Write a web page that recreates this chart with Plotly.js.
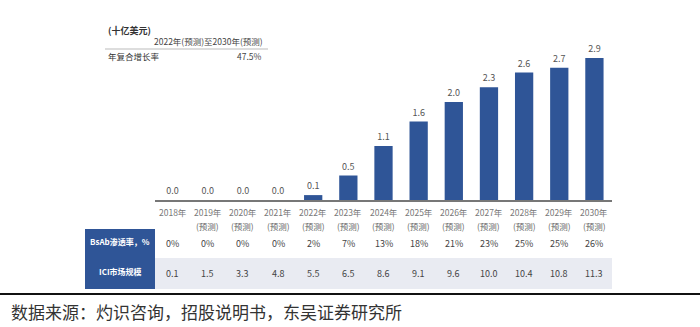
<!DOCTYPE html>
<html>
<head>
<meta charset="utf-8">
<script src="https://cdn.plot.ly/plotly-3.0.1.min.js"></script>
<style>html,body{margin:0;padding:0;background:#fff;}#chart{width:700px;height:327px;}</style>
</head>
<body>
<div id="chart"></div>
<script>
const years = ['2018年','2019年','2020年','2021年','2022年','2023年','2024年','2025年','2026年','2027年','2028年','2029年','2030年'];
const forecastTag = ['','(预测)','(预测)','(预测)','(预测)','(预测)','(预测)','(预测)','(预测)','(预测)','(预测)','(预测)','(预测)'];
const bsabMarket = [0.0,0.0,0.0,0.0,0.1,0.5,1.1,1.6,2.0,2.3,2.6,2.7,2.9];
const penetration = ['0%','0%','0%','0%','2%','7%','13%','18%','21%','23%','25%','25%','26%'];
const iciMarket = ['0.1','1.5','3.3','4.8','5.5','6.5','8.6','9.1','9.6','10.0','10.4','10.8','11.3'];
const rowLabels = ['BsAb渗透率，%','ICI市场规模'];
const unitLabel = '(十亿美元)';
const cagrHeader = '2022年(预测)至2030年(预测)';
const cagrLabel = '年复合增长率';
const cagrValue = '47.5%';
const sourceText = '数据来源：灼识咨询，招股说明书，东吴证券研究所';

const W = 700, H = 327;
const L = 155, R = 612, T = 40, B = 200;
const px = p => (p - L) / (R - L);
const py = q => (B - q) / (B - T);
const FONT = 'Noto Sans CJK SC, Noto Sans, sans-serif';
const BLUE = '#2F5597';

const idx = years.map((_, i) => i);

const trace = {
  type: 'bar', x: idx, y: bsabMarket, width: 0.52,
  marker: {color: BLUE},
  text: bsabMarket.map(v => v.toFixed(1)), textposition: 'outside',
  textfont: {family: FONT, size: 9, color: '#555'},
  cliponaxis: false, hoverinfo: 'skip'
};

const ann = [];
years.forEach((y, i) => {
  ann.push({x: i, y: py(212), xref: 'x', yref: 'paper', text: y, showarrow: false,
    font: {family: FONT, size: 8.5, color: '#777'}, xanchor: 'center', yanchor: 'middle'});
  if (forecastTag[i]) ann.push({x: i, y: py(226), xref: 'x', yref: 'paper', text: forecastTag[i], showarrow: false,
    font: {family: FONT, size: 8.5, color: '#666'}, xanchor: 'center', yanchor: 'middle'});
  ann.push({x: i, y: py(243), xref: 'x', yref: 'paper', text: penetration[i], showarrow: false,
    font: {family: FONT, size: 9, color: '#444'}, xanchor: 'center', yanchor: 'middle'});
  ann.push({x: i, y: py(273), xref: 'x', yref: 'paper', text: iciMarket[i], showarrow: false,
    font: {family: FONT, size: 9, color: '#444'}, xanchor: 'center', yanchor: 'middle'});
});
ann.push({x: px(120), y: py(241), xref: 'paper', yref: 'paper', text: rowLabels[0], showarrow: false,
  font: {family: FONT, size: 8, color: '#fff', weight: 'bold'}, xanchor: 'center', yanchor: 'middle'});
ann.push({x: px(120), y: py(271), xref: 'paper', yref: 'paper', text: rowLabels[1], showarrow: false,
  font: {family: FONT, size: 8, color: '#fff', weight: 'bold'}, xanchor: 'center', yanchor: 'middle'});
ann.push({x: px(106), y: py(30), xref: 'paper', yref: 'paper', text: '<b>' + unitLabel + '</b>', showarrow: false,
  font: {family: FONT, size: 9, color: '#333'}, xanchor: 'left', yanchor: 'middle'});
ann.push({x: px(265), y: py(41), xref: 'paper', yref: 'paper', text: cagrHeader, showarrow: false,
  font: {family: FONT, size: 8.5, color: '#444'}, xanchor: 'right', yanchor: 'middle'});
ann.push({x: px(106), y: py(56), xref: 'paper', yref: 'paper', text: cagrLabel, showarrow: false,
  font: {family: FONT, size: 8.5, color: '#333'}, xanchor: 'left', yanchor: 'middle'});
ann.push({x: px(264), y: py(56), xref: 'paper', yref: 'paper', text: cagrValue, showarrow: false,
  font: {family: FONT, size: 8.5, color: '#444'}, xanchor: 'right', yanchor: 'middle'});
ann.push({x: px(9), y: py(311), xref: 'paper', yref: 'paper', text: sourceText, showarrow: false,
  font: {family: FONT, size: 17, color: '#333'}, xanchor: 'left', yanchor: 'middle'});

const shapes = [
  {type: 'rect', xref: 'paper', yref: 'paper', x0: px(155), x1: px(612), y0: py(258), y1: py(289),
    fillcolor: '#e9ebf2', line: {width: 0}, layer: 'below'},
  {type: 'rect', xref: 'paper', yref: 'paper', x0: px(85), x1: px(155), y0: py(229), y1: py(289),
    fillcolor: BLUE, line: {width: 0}},
  {type: 'line', xref: 'paper', yref: 'paper', x0: px(105), x1: px(268), y0: py(49), y1: py(49),
    line: {color: '#bbb', width: 1}},
  {type: 'line', xref: 'paper', yref: 'paper', x0: px(0), x1: px(700), y0: py(294), y1: py(294),
    line: {color: '#111', width: 2}}
];

const layout = {
  width: W, height: H,
  margin: {l: L, r: W - R, t: T, b: H - B, pad: 0},
  paper_bgcolor: '#fff', plot_bgcolor: 'rgba(0,0,0,0)',
  showlegend: false,
  xaxis: {range: [-0.5, 12.5], showticklabels: false, ticks: '', showgrid: false, zeroline: false,
    showline: true, linecolor: '#777', linewidth: 1.5, fixedrange: true},
  yaxis: {range: [0, 160 / 49], visible: false, showgrid: false, zeroline: false, fixedrange: true},
  annotations: ann, shapes: shapes
};

Plotly.newPlot('chart', [trace], layout, {displayModeBar: false, staticPlot: true});
</script>
</body>
</html>
